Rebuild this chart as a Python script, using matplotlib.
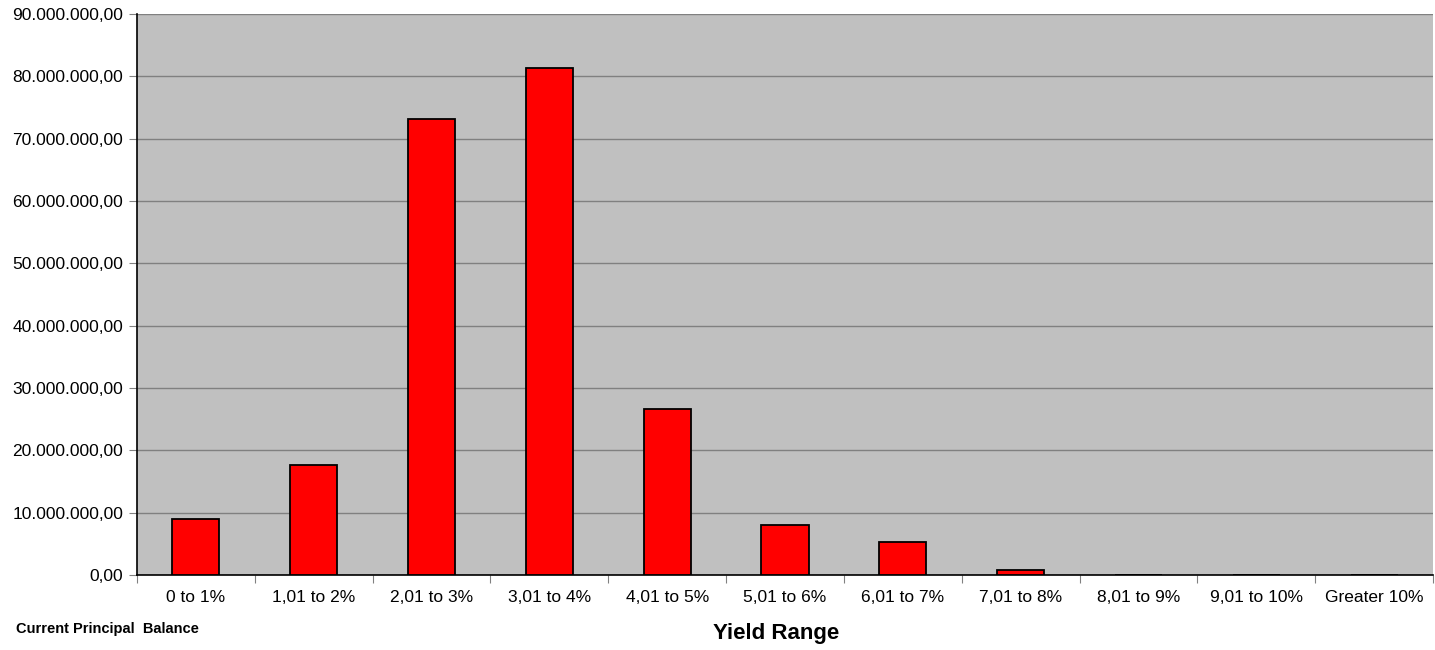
import matplotlib.pyplot as plt
import numpy as np
from matplotlib.ticker import FuncFormatter, MultipleLocator

plt.rcParams['font.family'] = ['Liberation Sans', 'DejaVu Sans']

# Yield buckets and the principal balance in each
ranges = ["0 to 1%", "1,01 to 2%", "2,01 to 3%", "3,01 to 4%", "4,01 to 5%",
          "5,01 to 6%", "6,01 to 7%", "7,01 to 8%", "8,01 to 9%", "9,01 to 10%",
          "Greater 10%"]
balance = [9.05e6, 17.7e6, 73.1e6, 81.4e6, 26.6e6,
           8.05e6, 5.35e6, 0.75e6, 0.08e6, 0.08e6, 0.0]


def euro_fmt(v, pos):
    # 10000000 -> 10.000.000,00
    s = f"{v:,.2f}"
    return s.replace(",", "X").replace(".", ",").replace("X", ".")


fig = plt.figure(figsize=(14.35, 6.5), dpi=100)
ax = fig.add_axes([137 / 1435, 75 / 650, 1296 / 1435, 561 / 650])
ax.set_facecolor("#c0c0c0")

x = np.arange(len(ranges))
ax.bar(x, balance, width=0.4, color="#ff0000", edgecolor="black",
       linewidth=1.3, zorder=3)

ax.set_xlim(-0.5, len(ranges) - 0.5)
ax.set_ylim(0, 90e6)
ax.yaxis.set_major_locator(MultipleLocator(10e6))
ax.yaxis.set_major_formatter(FuncFormatter(euro_fmt))
ax.grid(axis="y", color="#808080", linewidth=1, zorder=0)

# category labels sit between the boundary ticks
ax.set_xticks(np.arange(-0.5, len(ranges), 1.0))
ax.set_xticklabels([])
ax.set_xticks(x, minor=True)
ax.set_xticklabels(ranges, minor=True, fontsize=12.5)
ax.tick_params(axis="x", which="minor", length=0, pad=11)
ax.tick_params(axis="x", which="major", length=6, color="#808080")
ax.tick_params(axis="y", length=6, color="#808080", labelsize=12.5, pad=4)

for side in ("top", "right"):
    ax.spines[side].set_visible(False)
ax.spines["left"].set_color("black")
ax.spines["left"].set_linewidth(1.2)
ax.spines["bottom"].set_color("black")
ax.spines["bottom"].set_linewidth(1.2)

fig.text(776 / 1435, 1 - 634 / 650, "Yield Range", ha="center", va="center",
         fontsize=16, fontweight="bold")
fig.text(16 / 1435, 1 - 629 / 650, "Current Principal  Balance", ha="left",
         va="center", fontsize=10.5, fontweight="bold")

fig.savefig("out.png", dpi=100)
